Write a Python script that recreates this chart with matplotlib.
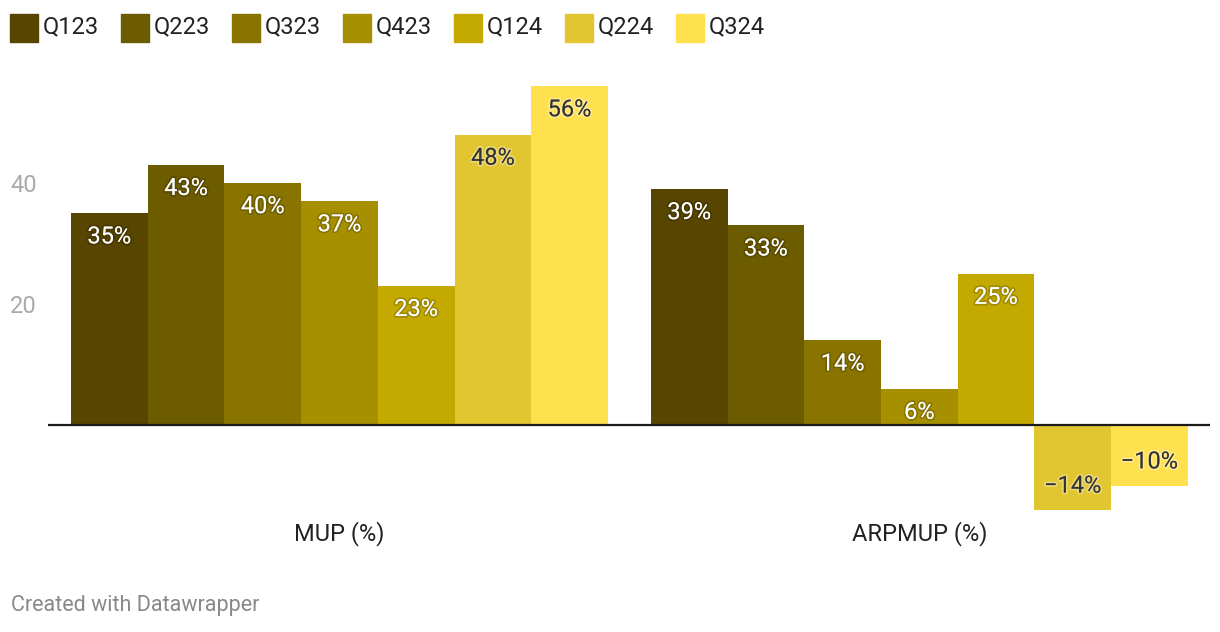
import numpy as np
import matplotlib.pyplot as plt
import matplotlib.patheffects as pe
from matplotlib.patches import Rectangle

plt.rcParams['font.family'] = ['Roboto', 'DejaVu Sans']

# data
groups = ["MUP (%)", "ARPMUP (%)"]
quarters = ["Q123", "Q223", "Q323", "Q423", "Q124", "Q224", "Q324"]
mup = [35, 43, 40, 37, 23, 48, 56]
arpmup = [39, 33, 14, 6, 25, -14, -10]
colors = ["#574500", "#6d5b00", "#897400", "#a79000", "#c4aa00", "#e1c531", "#ffe04f"]
dark_text = [False, False, False, False, False, True, True]

fig = plt.figure(figsize=(12.2, 6.32), dpi=100)
W, H = 1220, 632

# axes placed to match pixel layout
ax_left, ax_right = 48, 1210
y_lo, y_hi = -16, 58
px_per_unit = 6.05
zero_px = 425
ax_bottom_px = zero_px + (-y_lo) * px_per_unit
ax_top_px = zero_px - y_hi * px_per_unit
ax = fig.add_axes([ax_left / W, 1 - ax_bottom_px / H,
                   (ax_right - ax_left) / W, (ax_bottom_px - ax_top_px) / H])

n = len(quarters)
gap = 0.56
group_centers = np.arange(len(groups)) * (n + gap)
series = [mup, arpmup]

for g, vals in enumerate(series):
    xs = group_centers[g] + np.arange(n) - (n - 1) / 2
    ax.bar(xs, vals, width=1.0, color=colors, zorder=2)
    for x, v, dk in zip(xs, vals, dark_text):
        tc = "#333333" if dk else "white"
        glow = (1, 1, 1, 0.35) if dk else (0, 0, 0, 0.18)
        lab = f"{v}%" if v >= 0 else f"\u2212{abs(v)}%"
        off = -17 if v >= 0 else 17
        ax.annotate(lab, (x, v), xytext=(0, off), textcoords="offset points",
                    ha="center", va="center", fontsize=17, color=tc, zorder=4,
                    path_effects=[pe.withStroke(linewidth=2.5, foreground=glow)])

ax.axhline(0, color="#1a1a1a", linewidth=1.6, zorder=3)

left_unit = (ax_left - 339.5) / 76.7
right_unit = (ax_right - 339.5) / 76.7
ax.set_xlim(left_unit, right_unit)
ax.set_ylim(y_lo, y_hi)

ax.set_yticks([20, 40])
ax.set_yticklabels(["20", "40"])
ax.tick_params(axis="y", length=0, pad=8, labelsize=17, labelcolor="#aaaaaa")
ax.set_xticks([])
for s in ax.spines.values():
    s.set_visible(False)

# group labels
for c, name in zip(group_centers, groups):
    xpix = ax.transData.transform((c, 0))[0]
    fig.text(xpix / W, 1 - 534 / H, name, ha="center", va="center",
             fontsize=17, color="#222222")

# legend
leg_x = 10
for q, col in zip(quarters, colors):
    fig.patches.append(Rectangle((leg_x / W, 1 - 42 / H), 28 / W, 28 / H,
                                 transform=fig.transFigure, color=col))
    fig.text((leg_x + 33) / W, 1 - 27 / H, q, ha="left", va="center",
             fontsize=17, color="#222222")
    leg_x += 111

fig.text(11 / W, 1 - 606 / H, "Created with Datawrapper", ha="left", va="center",
         fontsize=15.5, color="#888888")

fig.savefig("out.png", dpi=100, facecolor="white")
